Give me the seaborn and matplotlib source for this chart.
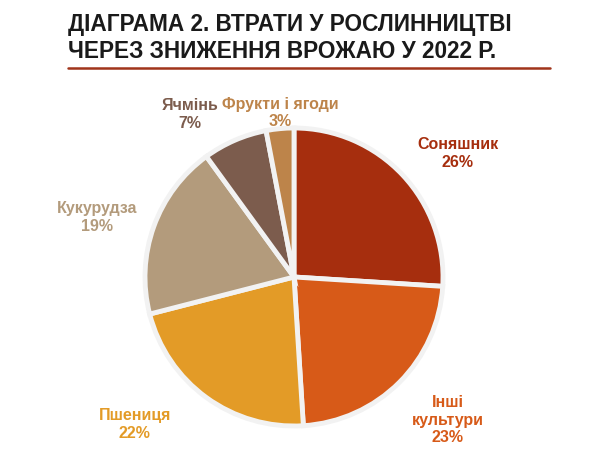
import matplotlib
matplotlib.use("Agg")
import matplotlib.pyplot as plt
import seaborn as sns

# ---- data ----
categories = ["Соняшник", "Інші\nкультури", "Пшениця", "Кукурудза", "Ячмінь", "Фрукти і ягоди"]
shares = [26, 23, 22, 19, 7, 3]
colors = ["#A62E0E", "#D75A18", "#E39B27", "#B39B7C", "#7C5C4D", "#BD844A"]
title_lines = ["ДІАГРАМА 2. ВТРАТИ У РОСЛИННИЦТВІ", "ЧЕРЕЗ ЗНИЖЕННЯ ВРОЖАЮ У 2022 Р."]

# ---- layout (label centres, in pie-radius units) ----
label_pos = [(1.10, 0.83), (1.03, -0.96), (-1.07, -0.99), (-1.32, 0.40), (-0.70, 1.09), (-0.09, 1.10)]

sns.set_theme(style="white")
plt.rcParams['font.family'] = ['Liberation Sans', 'DejaVu Sans']

W, H = 600, 468
fig = plt.figure(figsize=(W / 100, H / 100), dpi=100)
fig.patch.set_facecolor("white")

cx, cy, r = 294, 277, 149
ax = fig.add_axes([(cx - r) / W, (H - cy - r) / H, 2 * r / W, 2 * r / H])
ax.pie(shares, colors=colors, startangle=90, counterclock=False,
       wedgeprops=dict(edgecolor="#f2f2f2", linewidth=3.5), radius=1.0)
ax.set_xlim(-1, 1)
ax.set_ylim(-1, 1)
ax.set_aspect("equal")
ax.axis("off")

for cat, val, col, (lx, ly) in zip(categories, shares, colors, label_pos):
    ax.text(lx, ly, f"{cat}\n{val}%", ha="center", va="center", color=col,
            fontsize=11.5, fontweight="bold", linespacing=1.2, clip_on=False)

# title
for i, line in enumerate(title_lines):
    fig.text(68 / W, 1 - (31 + 27 * i) / H, line, ha="left", va="baseline",
             fontsize=16.3, fontweight="bold", color="#1a1a1a")
fig.add_artist(plt.Line2D([68 / W, 550 / W], [1 - 68 / H, 1 - 68 / H],
                          color="#A0341A", linewidth=1.8, transform=fig.transFigure))

fig.savefig("out.png", dpi=100)
